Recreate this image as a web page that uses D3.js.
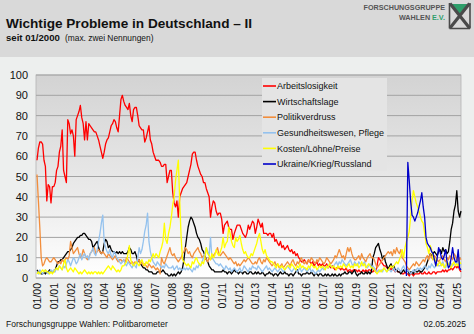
<!DOCTYPE html>
<html>
<head>
<meta charset="utf-8">
<script src="https://cdn.jsdelivr.net/npm/d3@7"></script>
<style>
body { margin: 0; background: #edefee; }
text { font-family: Arial, "Liberation Sans", sans-serif; }
</style>
</head>
<body>
<div id="chart"></div>
<script>
// Monthly values (% of mentions), Jan 2000 - Apr 2025
var arbeitslosigkeit = [
    58,64,67,67,66,58,55,38,46,45,37,45,   // 2000
    45,47,53,55,62,65,73,53,50,47,78,76,   // 2001
    71,73,70,60,78,80,82,85,79,76,68,77,   // 2002
    68,76,75,74,73,72,72,70,68,65,62,59,   // 2003
    62,66,68,69,72,75,76,78,77,74,72,80,   // 2004
    88,90,87,85,84,83,86,80,77,83,84,84,   // 2005
    80,75,74,73,73,67,69,72,75,68,66,62,   // 2006
    60,58,58,58,57,55,55,56,56,47,50,53,   // 2007
    53,42,37,35,38,30,40,42,44,45,46,47,   // 2008
    50,53,56,61,62,62,58,55,53,51,50,47,   // 2009
    47,44,42,40,30,35,38,37,33,31,32,32,   // 2010
    29,22,26,27,28,25,24,24,19,22,24,26,   // 2011
    26,26,24,22,21,20,22,26,24,26,28,27,   // 2012
    22,25,29,27,25,27,22,22,22,21,22,22,   // 2013
    20,22,18,19,17,16,18,15,16,14,15,16,   // 2014
    14,13,14,12,13,11,12,10,9,8,8,9,       // 2015
    8,7,9,8,7,8,6,7,8,6,7,6,               // 2016
    7,6,6,7,5,6,5,6,5,4,5,5,               // 2017
    5,4,5,4,4,5,3,4,4,3,4,4,               // 2018
    4,3,4,3,3,4,3,4,3,4,4,3,               // 2019
    3,4,3,6,10,9,8,7,6,6,5,5,              // 2020
    5,4,5,4,3,4,3,3,3,2,2,3,               // 2021
    2,2,1,2,2,1,2,2,2,2,3,2,               // 2022
    2,3,2,2,3,2,2,3,3,2,3,3,               // 2023
    3,3,4,3,4,3,4,4,5,4,5,6,               // 2024
    5,6,4,3                                // 2025
];

var wirtschaftslage = [
    4,3,3,2,2,3,2,3,3,4,3,3,
    3,4,6,8,8,9,9,10,11,12,13,13,
    14,15,17,18,19,20,20,21,21,22,22,21,
    20,19,19,18,15,16,17,18,15,13,12,13,
    17,19,18,15,16,14,13,13,12,13,12,13,
    12,13,12,12,12,13,15,14,12,12,13,11,
    8,9,7,6,5,5,4,4,3,3,3,2,
    2,2,3,3,3,3,4,3,2,2,1,1,
    2,1,2,1,2,3,2,3,5,9,15,20,
    25,28,30,29,27,25,22,20,19,17,14,13,
    11,9,8,6,5,4,4,3,3,3,3,3,
    3,4,3,3,2,3,3,2,3,4,3,3,
    2,3,3,2,3,3,2,2,3,3,2,2,
    3,2,3,2,2,3,2,1,2,2,3,2,
    2,1,2,2,1,2,3,2,2,3,2,2,
    1,2,2,1,2,3,4,2,2,1,2,2,
    2,3,2,2,3,2,1,2,2,1,2,2,
    1,1,2,1,2,1,1,2,1,2,1,1,
    2,1,2,2,3,2,2,3,3,2,3,4,
    2,1,2,2,3,2,2,3,2,3,2,3,
    10,12,15,16,17,14,12,9,11,8,6,4,
    6,7,5,6,4,4,3,3,2,3,4,3,
    3,4,2,3,3,2,4,3,3,4,3,3,
    4,5,6,8,10,12,11,12,13,12,11,13,
    14,12,15,13,14,12,13,18,24,27,33,36,
    43,33,30,33
];

var politikverdruss = [
    51,38,25,10,6,7,9,10,9,8,8,9,
    10,9,8,7,8,7,9,8,9,10,9,11,
    18,15,12,13,14,15,12,10,11,14,12,10,
    9,10,12,13,14,15,12,13,14,13,12,13,
    12,11,10,12,11,10,9,10,11,9,8,9,
    9,8,9,8,10,9,8,7,8,7,8,7,
    8,9,7,8,6,7,6,5,7,6,5,6,
    5,4,5,4,2,10,8,7,9,11,13,15,
    12,11,12,10,9,8,9,10,12,13,15,14,
    12,13,11,10,12,13,14,15,13,12,10,11,
    10,9,8,10,9,10,11,12,13,15,12,11,
    12,13,12,11,10,9,10,9,8,7,8,6,
    7,6,7,8,9,8,9,10,9,8,7,7,
    8,7,9,10,8,7,9,8,10,9,8,7,
    6,7,8,6,7,5,6,7,5,6,7,8,
    7,6,8,9,7,6,8,7,9,10,8,7,
    8,7,9,8,10,9,8,7,9,8,10,9,
    8,7,8,10,9,8,7,8,9,11,10,12,
    14,12,10,11,9,12,15,13,15,12,10,9,
    9,10,11,9,12,10,9,8,10,11,12,10,
    10,9,7,5,6,7,8,9,10,11,12,13,
    12,13,11,14,12,15,13,12,14,10,9,8,
    6,5,4,5,6,7,6,8,7,6,7,8,
    9,8,10,11,9,12,10,9,11,10,9,8,
    9,10,11,9,8,10,9,11,10,9,12,11,
    9,8,10,9
];

var gesundheit = [
    3,2,4,3,2,3,4,3,2,3,4,3,
    4,3,5,4,6,5,4,6,5,7,9,8,
    6,8,10,9,7,8,10,12,9,11,12,10,
    11,9,12,13,15,12,11,14,18,22,27,31,
    18,15,13,12,14,11,10,13,12,10,9,8,
    7,8,9,7,6,8,7,6,5,7,6,5,
    10,15,12,14,18,23,26,32,18,13,10,8,
    7,6,8,7,6,5,6,5,7,6,5,5,
    5,6,4,5,6,4,5,4,4,5,4,5,
    4,5,4,3,5,4,6,5,7,6,8,10,
    12,15,13,11,20,10,9,8,7,7,6,7,
    6,5,4,6,5,4,5,3,4,5,4,3,
    4,5,3,4,6,5,4,3,5,4,6,5,
    5,4,6,5,4,3,4,5,6,4,5,4,
    3,4,5,4,3,4,5,4,3,4,5,6,
    5,4,3,4,5,4,3,4,5,3,4,5,
    4,3,4,5,3,4,3,2,3,4,3,4,
    5,4,5,6,5,7,6,5,6,7,8,6,
    8,7,9,8,7,6,7,8,9,7,6,8,
    7,6,8,7,6,7,8,6,5,6,7,5,
    6,5,4,3,4,3,4,3,5,4,3,4,
    4,3,4,5,3,4,5,4,3,5,6,4,
    3,4,3,2,3,4,3,4,5,4,5,4,
    5,6,5,4,6,5,7,6,5,6,7,6,
    6,7,8,6,5,7,6,8,7,6,7,8,
    7,8,6,7
];

var kosten = [
    2,3,2,3,4,3,4,3,3,2,3,2,
    3,4,5,4,6,5,4,7,9,5,3,4,
    5,4,3,5,4,3,2,3,2,3,4,3,
    2,3,2,3,2,3,3,2,3,2,3,2,
    3,4,5,6,5,4,6,5,4,3,4,3,
    4,6,6,7,8,12,16,9,7,6,7,8,
    7,6,8,9,7,6,8,7,9,8,10,12,
    10,12,11,10,13,15,18,27,19,17,22,25,
    30,36,40,48,53,58,38,20,9,8,7,6,
    7,6,5,8,7,9,10,8,7,6,8,7,
    10,15,12,11,9,12,10,11,14,12,11,13,
    15,20,15,17,18,25,22,18,16,15,20,18,
    19,21,17,14,12,13,11,10,10,12,11,13,
    15,17,20,22,18,14,12,14,11,10,9,8,
    8,7,6,5,7,6,5,6,5,4,5,6,
    6,5,7,6,5,4,6,5,7,5,6,5,
    5,4,6,5,7,6,5,6,4,5,6,5,
    6,5,4,6,5,7,6,5,6,5,4,6,
    5,6,5,7,6,5,6,7,5,6,5,7,
    6,7,5,6,8,6,7,5,6,7,6,5,
    5,4,3,2,3,4,3,4,5,4,3,4,
    5,6,5,6,7,8,7,9,11,14,10,15,
    18,20,23,30,38,43,40,37,35,33,30,28,
    27,22,17,15,12,16,14,9,10,8,6,7,
    8,6,7,5,6,8,7,6,5,7,8,6,
    7,6,8,7
];

// Ukraine/Krieg/Russland only asked from 2022 on
var ukraineStart = 264;
var ukraine = [
    1,57,48,38,31,30,28,30,32,35,38,42,
    35,30,20,17,16,15,13,12,9,6,10,15,
    13,10,9,11,14,8,5,6,10,15,10,8,
    8,14,5,4
];

var seriesNames = ["Arbeitslosigkeit", "Wirtschaftslage", "Politikverdruss",
    "Gesundheitswesen, Pflege", "Kosten/Löhne/Preise", "Ukraine/Krieg/Russland"];
var seriesColors = ["#ff0000", "#000000", "#f28e3c", "#94c2ee", "#ffff00", "#0000c8"];

var yearLabels = ["01/00","01/01","01/02","01/03","01/04","01/05","01/06","01/07",
    "01/08","01/09","01/10","01/11","01/12","01/13","01/14","01/15","01/16",
    "01/17","01/18","01/19","01/20","01/21","01/22","01/23","01/24","01/25"];

var yTicks = [0, 10, 20, 30, 40, 50, 60, 70, 80, 90, 100];

var svgWidth = 474;
var svgHeight = 334;
var plot = { left: 36, right: 461, top: 75, bottom: 278 };

var svg = d3.select("#chart")
    .append("svg")
    .attr("width", svgWidth)
    .attr("height", svgHeight);

// header band
svg.append("rect")
    .attr("x", 0).attr("y", 0)
    .attr("width", svgWidth).attr("height", svgHeight)
    .attr("fill", "#edefee");
svg.append("rect")
    .attr("x", 0).attr("y", 0)
    .attr("width", svgWidth).attr("height", 57)
    .attr("fill", "#d9d9d9");

svg.append("text")
    .attr("x", 6).attr("y", 28)
    .style("font-size", "13.6px")
    .style("font-weight", "bold")
    .attr("fill", "#111")
    .text("Wichtige Probleme in Deutschland – II");

var sub = svg.append("text")
    .attr("x", 6).attr("y", 40.5)
    .attr("fill", "#111");
sub.append("tspan")
    .style("font-size", "9.6px")
    .style("font-weight", "bold")
    .text("seit 01/2000");
sub.append("tspan")
    .attr("x", 65)
    .style("font-size", "8.4px")
    .text("(max. zwei Nennungen)");

// logo
svg.append("text")
    .attr("x", 445).attr("y", 10)
    .attr("text-anchor", "end")
    .style("font-size", "7.2px")
    .style("font-weight", "bold")
    .attr("fill", "#555")
    .text("FORSCHUNGSGRUPPE");
var logo2 = svg.append("text")
    .attr("x", 445).attr("y", 19.5)
    .attr("text-anchor", "end")
    .style("font-size", "7.2px")
    .style("font-weight", "bold")
    .attr("fill", "#555");
logo2.append("tspan").text("WAHLEN ");
logo2.append("tspan").attr("fill", "#2e9e6a").text("E.V.");

var logo = svg.append("g");
logo.append("path")
    .attr("d", "M451,4 L468,4 L459.5,14 Z")
    .attr("fill", "#2e9e6a");
logo.append("path")
    .attr("d", "M450,3.5 L469.5,28 M469.5,3.5 L450,28")
    .attr("stroke", "#4a4a4a")
    .attr("stroke-width", 3.2);
logo.append("path")
    .attr("d", "M449.5,3 V28.5 M470,3 V28.5 M449.5,28.5 H470")
    .attr("stroke", "#4a4a4a")
    .attr("stroke-width", 1.6)
    .attr("fill", "none");

// plot background
var defs = svg.append("defs");
var grad = defs.append("linearGradient")
    .attr("id", "plotBg")
    .attr("x1", 0).attr("y1", 0).attr("x2", 0).attr("y2", 1);
grad.append("stop").attr("offset", "0%").attr("stop-color", "#d3d3d3");
grad.append("stop").attr("offset", "55%").attr("stop-color", "#e9e9e9");
grad.append("stop").attr("offset", "100%").attr("stop-color", "#ffffff");

svg.append("rect")
    .attr("x", plot.left).attr("y", plot.top)
    .attr("width", plot.right - plot.left)
    .attr("height", plot.bottom - plot.top)
    .attr("fill", "url(#plotBg)")
    .attr("stroke", "#b4b4b4")
    .attr("stroke-width", 0.8);

// scales
var x = d3.scaleLinear()
    .domain([0, 303])
    .range([plot.left + 1, plot.right]);
var y = d3.scaleLinear()
    .domain([0, 100])
    .range([plot.bottom, plot.top]);

// gridlines
svg.append("g")
    .selectAll("line")
    .data(yTicks)
    .enter()
    .append("line")
    .attr("x1", plot.left).attr("x2", plot.right)
    .attr("y1", d => y(d)).attr("y2", d => y(d))
    .attr("stroke", "#a3a3a3")
    .attr("stroke-width", 1);

// y axis
var yAxis = svg.append("g")
    .attr("transform", "translate(" + (plot.left - 6) + ",0)")
    .call(d3.axisLeft(y).tickValues(yTicks).tickSize(0).tickPadding(2));
yAxis.select(".domain").remove();
yAxis.selectAll("text")
    .style("font-size", "11px")
    .attr("fill", "#111");

// x axis, labels rotated
var xAxis = svg.append("g")
    .attr("transform", "translate(0," + plot.bottom + ")")
    .call(d3.axisBottom(x)
        .tickValues(d3.range(0, yearLabels.length * 12, 12))
        .tickFormat((d, i) => yearLabels[i])
        .tickSize(0));
xAxis.select(".domain").remove();
xAxis.selectAll("text")
    .attr("transform", "rotate(-90)")
    .attr("text-anchor", "end")
    .attr("x", -5)
    .attr("y", 0)
    .attr("dy", "0.35em")
    .style("font-size", "10.5px")
    .attr("fill", "#111");

// lines
var allSeries = [arbeitslosigkeit, wirtschaftslage, politikverdruss, gesundheit, kosten];
var lineData = allSeries.map(vals => vals.map((v, i) => ({ i: i, v: v })));
lineData.push(ukraine.map((v, k) => ({ i: ukraineStart + k, v: v })));

var line = d3.line()
    .x(d => x(d.i))
    .y(d => y(d.v));

svg.append("g")
    .selectAll("path")
    .data(lineData)
    .enter()
    .append("path")
    .attr("d", line)
    .attr("fill", "none")
    .attr("stroke", (d, i) => seriesColors[i])
    .attr("stroke-width", 1.3)
    .attr("stroke-linejoin", "round");

// legend
var legend = svg.append("g");
legend.append("rect")
    .attr("x", 262).attr("y", 78)
    .attr("width", 125).attr("height", 93)
    .attr("fill", "#e4e4e4");
var rows = legend.selectAll("g.row")
    .data(seriesNames)
    .enter()
    .append("g")
    .attr("class", "row")
    .attr("transform", (d, i) => "translate(263," + (86 + i * 15.6) + ")");
rows.append("line")
    .attr("x1", 0).attr("x2", 13)
    .attr("stroke", (d, i) => seriesColors[i])
    .attr("stroke-width", 1.6);
rows.append("text")
    .attr("x", 14)
    .attr("dy", "0.35em")
    .style("font-size", "9px")
    .attr("fill", "#111")
    .text(d => d);

// footer
svg.append("text")
    .attr("x", 6).attr("y", 327)
    .style("font-size", "8.5px")
    .attr("fill", "#111")
    .text("Forschungsgruppe Wahlen: Politbarometer");
svg.append("text")
    .attr("x", 466).attr("y", 327)
    .attr("text-anchor", "end")
    .style("font-size", "8.5px")
    .attr("fill", "#111")
    .text("02.05.2025");
</script>
</body>
</html>
